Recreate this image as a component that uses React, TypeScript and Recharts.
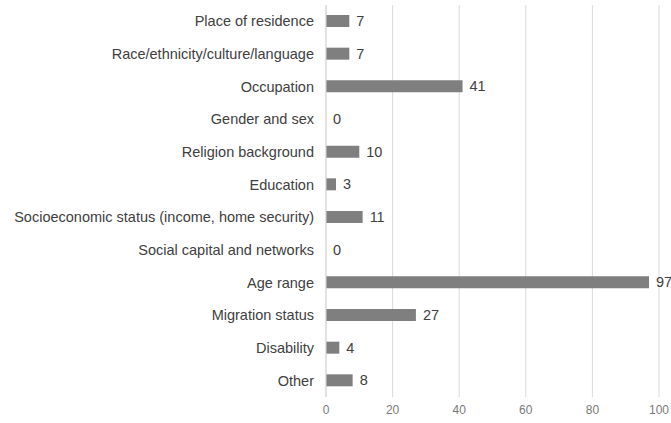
import React from "react";
import { BarChart, Bar, XAxis, YAxis, CartesianGrid, LabelList } from "recharts";

const categories = [
  "Place of residence",
  "Race/ethnicity/culture/language",
  "Occupation",
  "Gender and sex",
  "Religion background",
  "Education",
  "Socioeconomic status (income, home security)",
  "Social capital and networks",
  "Age range",
  "Migration status",
  "Disability",
  "Other",
];
const counts = [7, 7, 41, 0, 10, 3, 11, 0, 97, 27, 4, 8];
const xTicks = [0, 20, 40, 60, 80, 100];

const data = categories.map((name, i) => ({ name, value: counts[i] }));

const FONT = "'Liberation Sans', Arial, sans-serif";

export default function App() {
  return (
    <div style={{ position: "absolute", left: 0, top: 0 }}>
      <BarChart
        width={671}
        height={423}
        data={data}
        layout="vertical"
        margin={{ top: 5, right: 12, bottom: 0, left: 0 }}
        barSize={12}
      >
        <CartesianGrid horizontal={false} vertical={true} stroke="#d9d9d9" />
        <XAxis
          type="number"
          domain={[0, 100]}
          ticks={xTicks}
          axisLine={false}
          tickLine={false}
          height={26}
          tick={{ fill: "#7a7a7a", fontSize: 12, fontFamily: FONT }}
        />
        <YAxis
          type="category"
          dataKey="name"
          width={326}
          axisLine={{ stroke: "#d9d9d9" }}
          tickLine={false}
          tickMargin={6}
          interval={0}
          tick={{ fill: "#404040", fontSize: 14.5, fontFamily: FONT }}
        />
        <Bar dataKey="value" fill="#7f7f7f" minPointSize={0.01} isAnimationActive={false}>
          <LabelList
            dataKey="value"
            position="right"
            offset={7}
            style={{ fill: "#404040", fontSize: 14.5, fontFamily: FONT }}
          />
        </Bar>
      </BarChart>
    </div>
  );
}
